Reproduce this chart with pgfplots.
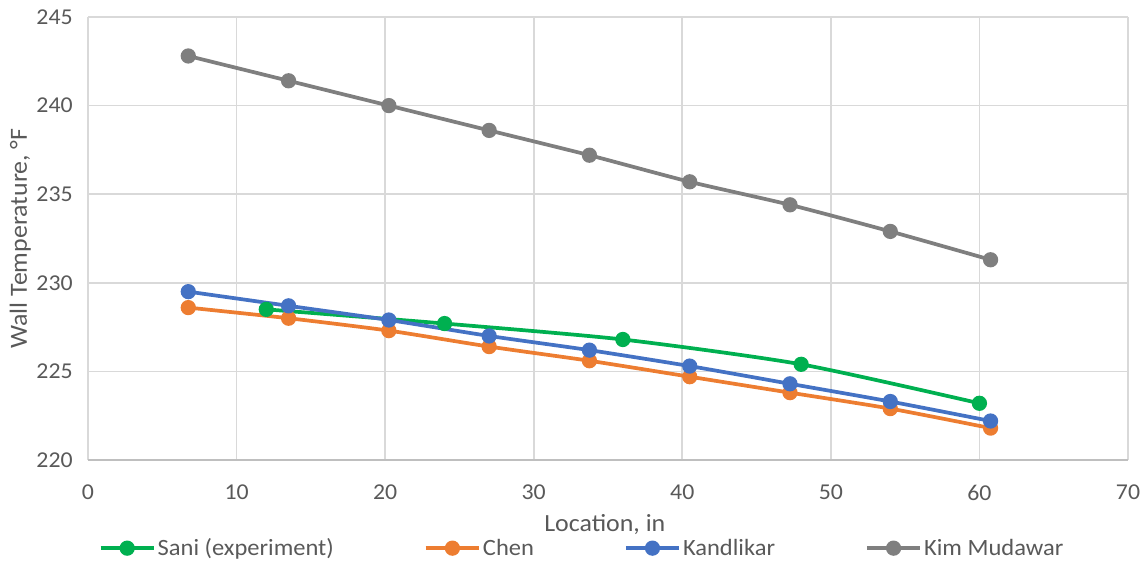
\documentclass[border=0pt]{standalone}
\usepackage{pgfplots}
\pgfplotsset{compat=1.18}
\usepackage{fontspec}
\setmainfont{Carlito}[FakeStretch=1.05]
\definecolor{cgreen}{HTML}{00B050}
\definecolor{corange}{HTML}{ED7D31}
\definecolor{cblue}{HTML}{4472C4}
\definecolor{cgray}{HTML}{7F7F7F}
\definecolor{gridcol}{HTML}{D9D9D9}
\definecolor{txt}{HTML}{595959}
\begin{document}
\begin{tikzpicture}
\begin{axis}[
  at={(66pt,77.25pt)}, anchor=south west,
  scale only axis, width=780pt, height=332.25pt,
  xmin=0, xmax=70, ymin=220, ymax=245,
  xtick={0,10,...,70}, ytick={220,225,...,245},
  grid=major, major grid style={draw=gridcol, line width=1.2pt},
  axis x line*=bottom, axis y line*=left,
  x axis line style={draw=black!25, line width=1.2pt, -},
  y axis line style={draw=none},
  tick style={draw=none},
  yticklabel style={xshift=-8pt},
  xticklabel style={yshift=-15pt},
  ticklabel style={font=\fontsize{17}{20}\selectfont, text=txt},
  /pgf/number format/assume math mode=true,
  xlabel={Location, in}, ylabel={Wall Temperature, °F},
  label style={font=\fontsize{18.5}{22}\selectfont, text=txt},
  xlabel style={at={(axis description cs:0.497,-0.145)}, anchor=center},
  ylabel style={at={(axis description cs:-0.065,0.5)}, anchor=center},
  legend columns=4,
  legend style={at={(axis description cs:0.475,-0.199)}, anchor=center, draw=none, fill=none,
    font=\fontsize{17.5}{20}\selectfont, text=txt, nodes={inner sep=1.5pt},
    /tikz/every even column/.append style={column sep=66pt}},
  legend image code/.code={\draw[#1, mark repeat=2, mark phase=2] plot coordinates {(0pt,0pt) (20pt,0pt) (40pt,0pt)};},
  every axis plot/.append style={line width=2.8pt, mark=*, mark size=4.3pt, smooth, tension=0.4},
]
\addplot[cgreen, mark options={fill=cgreen, draw=cgreen}] coordinates {(12,228.5) (24,227.7) (36,226.8) (48,225.4) (60,223.2)};
\addlegendentry{Sani (experiment)}
\addplot[corange, mark options={fill=corange, draw=corange}] coordinates {(6.75,228.6) (13.5,228.0) (20.25,227.3) (27,226.4) (33.75,225.6) (40.5,224.7) (47.25,223.8) (54,222.9) (60.75,221.8)};
\addlegendentry{Chen}
\addplot[cblue, mark options={fill=cblue, draw=cblue}] coordinates {(6.75,229.5) (13.5,228.7) (20.25,227.9) (27,227.0) (33.75,226.2) (40.5,225.3) (47.25,224.3) (54,223.3) (60.75,222.2)};
\addlegendentry{Kandlikar}
\addplot[cgray, mark options={fill=cgray, draw=cgray}] coordinates {(6.75,242.8) (13.5,241.4) (20.25,240.0) (27,238.6) (33.75,237.2) (40.5,235.7) (47.25,234.4) (54,232.9) (60.75,231.3)};
\addlegendentry{Kim Mudawar}
\end{axis}
\pgfresetboundingbox
\useasboundingbox (0pt,0pt) rectangle (855.75pt,422.25pt);
\end{tikzpicture}
\end{document}
